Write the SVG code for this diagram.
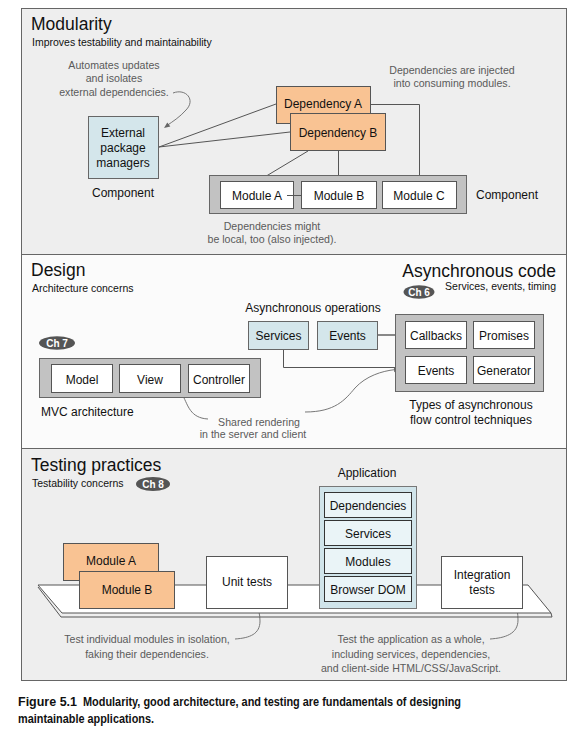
<svg xmlns="http://www.w3.org/2000/svg" width="586" height="745" viewBox="0 0 586 745">
<defs>
<style>
text{font-family:"Liberation Sans",Arial,sans-serif;fill:#111}
.title{font-size:17.5px}
.sub{font-size:10.5px}
.t{font-size:12px;text-anchor:middle}
.tl{font-size:12px}
.note{font-size:10.6px;fill:#5a5a5a;text-anchor:middle}
.badge{font-size:10px;font-weight:bold;fill:#fff;text-anchor:middle}
.panel{stroke:#666;stroke-width:1}
.dep{fill:#f9c393;stroke:#555;stroke-width:1}
.blue{fill:#d4e6eb;stroke:#666;stroke-width:1}
.white{fill:#fff;stroke:#555;stroke-width:1}
.cont{fill:#c2c2c2;stroke:#666;stroke-width:1}
.inner{fill:#eaf4f7;stroke:#333;stroke-width:1}
.ln{fill:none;stroke:#555;stroke-width:1}
.arr{fill:none;stroke:#777;stroke-width:1}
.head{fill:#666;stroke:none}
.cap{font-family:"Liberation Sans","DejaVu Sans",sans-serif;font-weight:bold;font-size:12.5px;fill:#111}
</style>
</defs>
<rect width="586" height="745" fill="#fff"/>

<!-- panels -->
<g id="panel-modularity">
<rect x="21.5" y="8.5" width="545" height="246" fill="#eeeeee" class="panel"/>
<text x="31" y="30" class="title">Modularity</text>
<text x="32" y="46" class="sub">Improves testability and maintainability</text>
</g>
<g id="panel-design">
<rect x="21.5" y="254.5" width="545" height="194" fill="#fbfbfb" class="panel"/>
<text x="31" y="276" class="title">Design</text>
<text x="32" y="292" class="sub">Architecture concerns</text>
<text x="556" y="277" class="title" text-anchor="end">Asynchronous code</text>
</g>
<g id="panel-testing">
<rect x="21.5" y="448.5" width="545" height="232" fill="#eeeeee" class="panel"/>
<text x="31" y="471" class="title">Testing practices</text>
<text x="32" y="487" class="sub">Testability concerns</text>
</g>

<!-- connectors -->
<g id="connectors">
<line x1="159" y1="147" x2="276" y2="104" class="ln"/>
<line x1="159" y1="147" x2="290" y2="132" class="ln"/>
<line x1="308" y1="151" x2="258" y2="181" class="ln"/>
<line x1="338.5" y1="151" x2="338.5" y2="181" class="ln"/>
<polyline points="371,104.5 419.5,104.5 419.5,181" class="ln"/>
<line x1="378" y1="335" x2="405" y2="335" stroke="#888" stroke-width="2"/>
<polyline points="283.5,349 283.5,367.5 405,367.5" class="ln"/>
<path d="M173,93 C186,88 196,100 186,110 C180,117 172,122 167,125.5" class="arr"/>
<polygon points="164,128 170.3,126.4 167.3,122.4" class="head"/>
<path d="M208,419 C190,418 188,405 183,396 C179,389 175,385 173,384.3" class="arr"/>
<polygon points="169,383 175.5,382.5 173.9,387.3" class="head"/>
<path d="M305,412 C335,412 345,400 355,388 C366,376 382,371 395,369.6" class="arr"/>
<polygon points="400,369 394.3,372.2 393.8,367.2" class="head"/>
<path d="M235,639 C250,638 260,634 260,621 C260,608 254,600 251,597.5" class="arr"/>
<polygon points="248,595 254.2,596.9 251,600.8" class="head"/>
<path d="M490,639 C505,638 518,634 518,620 C518,607 514,600 511.5,597" class="arr"/>
<polygon points="509,594 514.8,597 510.9,600.2" class="head"/>
</g>

<!-- Modularity nodes -->
<g id="ext-pkg">
<rect x="88.5" y="116.5" width="70" height="62" class="blue"/>
<text x="123" y="137" class="t">External</text>
<text x="123" y="152" class="t">package</text>
<text x="123" y="167" class="t">managers</text>
<text x="123" y="197" class="t">Component</text>
</g>
<g id="note-auto">
<text x="114" y="69" class="note">Automates updates</text>
<text x="114" y="82" class="note">and isolates</text>
<text x="114" y="96" class="note">external dependencies.</text>
</g>
<g id="dep-a">
<rect x="276.5" y="86.5" width="94" height="37" class="dep"/>
<text x="323" y="108" class="t">Dependency A</text>
</g>
<g id="dep-b">
<rect x="290.5" y="113.5" width="95" height="37" class="dep"/>
<text x="338" y="137" class="t">Dependency B</text>
</g>
<g id="note-injected">
<text x="452" y="74" class="note">Dependencies are injected</text>
<text x="452" y="87" class="note">into consuming modules.</text>
</g>
<g id="component-mods">
<rect x="209.5" y="175.5" width="257" height="38" class="cont"/>
<text x="476" y="199" class="tl">Component</text>
</g>
<g id="module-a">
<rect x="220.5" y="181.5" width="73" height="27" class="white"/>
<text x="257" y="200" class="t">Module A</text>
</g>
<g id="module-b">
<rect x="301.5" y="181.5" width="75" height="27" class="white"/>
<text x="339" y="200" class="t">Module B</text>
</g>
<g id="module-c">
<rect x="382.5" y="181.5" width="74" height="27" class="white"/>
<text x="419" y="200" class="t">Module C</text>
</g>
<line x1="287" y1="195.5" x2="301" y2="195.5" class="ln"/>
<g id="note-local">
<text x="272" y="230" class="note">Dependencies might</text>
<text x="272" y="243" class="note">be local, too (also injected).</text>
</g>

<!-- Design nodes -->
<g id="ch6">
<ellipse cx="419" cy="292" rx="15.5" ry="6.8" fill="#555"/>
<text x="419" y="295.5" class="badge">Ch 6</text>
<text x="556" y="290" class="sub" text-anchor="end">Services, events, timing</text>
</g>
<text x="313" y="312" class="t">Asynchronous operations</text>
<g id="services-op">
<rect x="248.5" y="321.5" width="60" height="28" class="blue"/>
<text x="278.5" y="340" class="t">Services</text>
</g>
<g id="events-op">
<rect x="317.5" y="321.5" width="60" height="28" class="blue"/>
<text x="347.5" y="340" class="t">Events</text>
</g>
<g id="async-types">
<rect x="395.5" y="314.5" width="148" height="77" class="cont"/>
<text x="471" y="409" class="t">Types of asynchronous</text>
<text x="471" y="424" class="t">flow control techniques</text>
</g>
<g id="callbacks">
<rect x="405.5" y="321.5" width="61" height="27" class="white"/>
<text x="436" y="340" class="t">Callbacks</text>
</g>
<g id="promises">
<rect x="473.5" y="321.5" width="61" height="27" class="white"/>
<text x="504" y="340" class="t">Promises</text>
</g>
<g id="events-flow">
<rect x="405.5" y="356.5" width="61" height="27" class="white"/>
<text x="436" y="375" class="t">Events</text>
</g>
<g id="generator">
<rect x="473.5" y="356.5" width="61" height="27" class="white"/>
<text x="504" y="375" class="t">Generator</text>
</g>
<g id="ch7">
<ellipse cx="57" cy="343" rx="18" ry="6.8" fill="#555"/>
<text x="57" y="346.5" class="badge">Ch 7</text>
</g>
<g id="mvc">
<rect x="39.5" y="358.5" width="221" height="39" class="cont"/>
<text x="41" y="416" class="tl">MVC architecture</text>
</g>
<g id="model">
<rect x="51.5" y="364.5" width="61" height="28" class="white"/>
<text x="82" y="384" class="t">Model</text>
</g>
<g id="view">
<rect x="119.5" y="364.5" width="61" height="28" class="white"/>
<text x="150" y="384" class="t">View</text>
</g>
<g id="controller">
<rect x="188.5" y="364.5" width="61" height="28" class="white"/>
<text x="219" y="384" class="t">Controller</text>
</g>
<g id="note-shared">
<text x="259" y="426" class="note">Shared rendering</text>
<text x="253" y="438" class="note">in the server and client</text>
</g>

<!-- Testing nodes -->
<g id="ch8">
<ellipse cx="153" cy="484" rx="17" ry="7" fill="#555"/>
<text x="153" y="487.5" class="badge">Ch 8</text>
</g>
<g id="platform">
<polyline points="38,587 61,617 552,617 551,613" fill="none" stroke="#555" stroke-width="1"/>
<polygon points="38,585 528,585 551,613 62,613" fill="#fff" stroke="#555" stroke-width="1"/>
</g>
<g id="test-module-a">
<rect x="63.5" y="543.5" width="95" height="37" class="dep"/>
<text x="111" y="565" class="t">Module A</text>
</g>
<g id="test-module-b">
<rect x="79.5" y="571.5" width="95" height="37" class="dep"/>
<text x="127" y="594" class="t">Module B</text>
</g>
<g id="unit-tests">
<rect x="206.5" y="556.5" width="81" height="52" class="white" stroke="#777"/>
<text x="247" y="586" class="t">Unit tests</text>
</g>
<g id="application">
<text x="367" y="477" class="t">Application</text>
<rect x="319.5" y="486.5" width="97" height="122" fill="#d0e4ea" stroke="#777" stroke-width="1"/>
</g>
<g id="app-deps">
<rect x="324.5" y="492.5" width="87" height="25" class="inner"/>
<text x="368" y="510" class="t">Dependencies</text>
</g>
<g id="app-services">
<rect x="324.5" y="520.5" width="87" height="25" class="inner"/>
<text x="368" y="538" class="t">Services</text>
</g>
<g id="app-modules">
<rect x="324.5" y="548.5" width="87" height="25" class="inner"/>
<text x="368" y="566" class="t">Modules</text>
</g>
<g id="app-dom">
<rect x="324.5" y="576.5" width="87" height="25" class="inner"/>
<text x="368" y="594" class="t">Browser DOM</text>
</g>
<g id="integration-tests">
<rect x="441.5" y="556.5" width="81" height="52" class="white" stroke="#777"/>
<text x="482" y="579" class="t">Integration</text>
<text x="482" y="594" class="t">tests</text>
</g>
<g id="note-unit">
<text x="147" y="643" class="note">Test individual modules in isolation,</text>
<text x="147" y="658" class="note">faking their dependencies.</text>
</g>
<g id="note-integration">
<text x="411" y="643" class="note">Test the application as a whole,</text>
<text x="411" y="658" class="note">including services, dependencies,</text>
<text x="411" y="672" class="note">and client-side HTML/CSS/JavaScript.</text>
</g>

<!-- caption -->
<text x="18" y="706" class="cap" textLength="59" lengthAdjust="spacingAndGlyphs">Figure 5.1</text>
<text x="83" y="706" class="cap" textLength="378" lengthAdjust="spacingAndGlyphs">Modularity, good architecture, and testing are fundamentals of designing</text>
<text x="18" y="723" class="cap" textLength="136" lengthAdjust="spacingAndGlyphs">maintainable applications.</text>
</svg>
